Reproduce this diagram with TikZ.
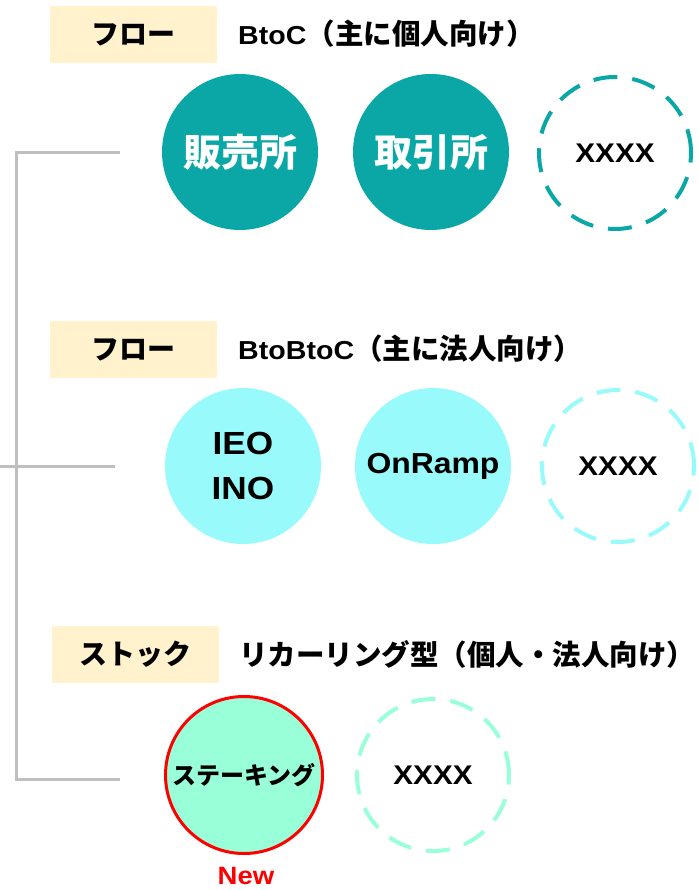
\documentclass[tikz,border=0pt]{standalone}
\usepackage{fontspec}
\newfontfamily\jp{Noto Sans CJK JP}
\newfontfamily\lat{Liberation Sans}[FakeStretch=1.1]
\definecolor{teal1}{RGB}{11,167,167}
\definecolor{cyan1}{RGB}{152,250,250}
\definecolor{mint1}{RGB}{152,255,216}
\definecolor{boxy}{RGB}{255,242,204}
\definecolor{grayl}{RGB}{191,191,191}
\definecolor{red1}{RGB}{255,0,0}
\begin{document}
\begin{tikzpicture}[x=1pt,y=-1pt,
  labelbox/.style={fill=boxy, minimum width=167pt, minimum height=57pt, inner sep=0pt, font=\jp\bfseries\fontsize{28}{32}\selectfont},
  heading/.style={anchor=west, inner sep=0pt, font=\jp\bfseries\fontsize{28.5}{32}\selectfont},
  solidc/.style={circle, minimum size=156pt, inner sep=0pt, align=center},
  dashc/.style={circle, draw, line width=4pt, dash pattern=on 24pt off 15pt, minimum size=152pt, inner sep=0pt, font=\lat\bfseries\fontsize{27}{30}\selectfont},
  bigjp/.style={font=\jp\bfseries\fontsize{38}{42}\selectfont},
  latb/.style={font=\lat\bfseries\fontsize{32}{45}\selectfont},
  bracket/.style={draw=grayl, line width=3pt}
]
\useasboundingbox (0,0) rectangle (698,890);

% row 1
\node[labelbox] (l1) at (133.5,34.5) {フロー};
\node[heading] (h1) at (238,34) {{\lat\bfseries\fontsize{26}{30}\selectfont BtoC}（主に個人向け）};
\node[solidc, fill=teal1, text=white, bigjp] (c11) at (240,152) {販売所};
\node[solidc, fill=teal1, text=white, bigjp] (c12) at (431,152) {取引所};
\node[dashc, draw=teal1] (c13) at (615,153) {XXXX};

% row 2
\node[labelbox] (l2) at (133.5,349.5) {フロー};
\node[heading] (h2) at (238,349) {{\lat\bfseries\fontsize{26}{30}\selectfont BtoBtoC}（主に法人向け）};
\node[solidc, fill=cyan1, latb] (c21) at (243,466) {IEO\\INO};
\node[solidc, fill=cyan1, font=\lat\bfseries\fontsize{29}{32}\selectfont] (c22) at (433,466) {OnRamp};
\node[dashc, draw=cyan1] (c23) at (618,466) {XXXX};

% row 3
\node[labelbox] (l3) at (135.5,654.5) {ストック};
\node[heading] (h3) at (239,654) {リカーリング型（個人・法人向け）};
\node[solidc, fill=mint1, draw=red1, line width=3pt, minimum size=157pt, font=\jp\bfseries\fontsize{24}{27}\selectfont] (c31) at (244,775) {ステーキング};
\node[dashc, draw=mint1] (c32) at (433,775) {XXXX};
\node[text=red1, inner sep=0pt, font=\lat\bfseries\fontsize{25}{28}\selectfont] (new) at (246,876.5) {New};

% bracket
\coordinate (b1) at (120,153);
\coordinate (b1c) at (16,153);
\coordinate (b3c) at (16,779);
\coordinate (b3) at (120,779);
\coordinate (m0) at (0,466);
\coordinate (m1) at (115,466);
\draw[bracket] (b1) -- (b1c) -- (b3c) -- (b3);
\draw[bracket] (m0) -- (m1);
\end{tikzpicture}
\end{document}
